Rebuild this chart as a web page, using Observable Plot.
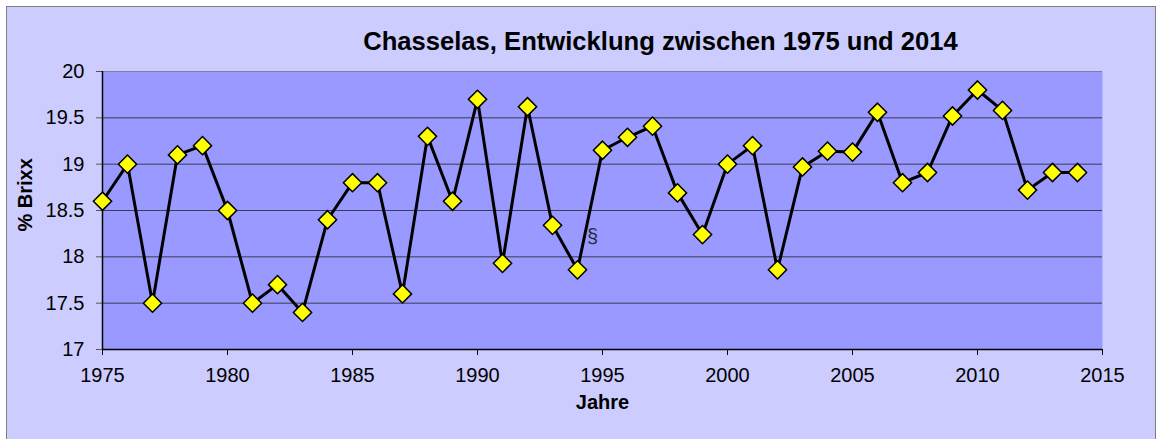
<!DOCTYPE html>
<html>
<head>
<meta charset="utf-8">
<script src="https://cdn.jsdelivr.net/npm/d3@7"></script>
<script src="https://cdn.jsdelivr.net/npm/@observablehq/plot@0.6"></script>
<style>
  html, body { margin: 0; padding: 0; background: #ffffff; }
  #wrap { position: relative; width: 1156px; height: 439px; overflow: hidden; }
  #box { position: absolute; left: 6px; top: 6px; width: 1148px; height: 460px;
         border: 1px solid #7f7f7f; background: #ccccff; }
  #chart { position: absolute; left: 0; top: 0; }
</style>
</head>
<body>
<div id="wrap"><div id="box"></div><div id="chart"></div></div>
<script>
const titleText = "Chasselas, Entwicklung zwischen 1975 und 2014";
const xLabel = "Jahre";
const yLabel = "% Brixx";
const years = [1975,1976,1977,1978,1979,1980,1981,1982,1983,1984,1985,1986,1987,1988,1989,1990,1991,1992,1993,1994,1995,1996,1997,1998,1999,2000,2001,2002,2003,2004,2005,2006,2007,2008,2009,2010,2011,2012,2013,2014];
const brix = [18.6,19.0,17.5,19.1,19.2,18.5,17.5,17.7,17.4,18.4,18.8,18.8,17.6,19.3,18.6,19.7,17.93,19.62,18.34,17.86,19.15,19.29,19.41,18.69,18.24,19.0,19.2,17.86,18.97,19.14,19.13,19.56,18.8,18.91,19.52,19.8,19.58,18.72,18.91,18.91];
const xTicks = [1975,1980,1985,1990,1995,2000,2005,2010,2015];
const yTicks = [17,17.5,18,18.5,19,19.5,20];
const notes = [{year: 1994.6, value: 18.22, text: "§"}];

const data = years.map((y, i) => ({year: y, value: brix[i]}));

const chart = Plot.plot({
  width: 1156,
  height: 439,
  marginLeft: 102,
  marginRight: 54,
  marginTop: 71,
  marginBottom: 90,
  style: {background: "transparent", fontFamily: "'Liberation Sans', Arial, sans-serif", fontSize: "20px", color: "#000"},
  x: {domain: [1975, 2015]},
  y: {domain: [17, 20]},
  marks: [
    Plot.frame({fill: "#9999ff", stroke: null}),
    Plot.gridY(yTicks.filter(d => d > 17 && d < 20), {stroke: "#3c3c50", strokeOpacity: 1, strokeWidth: 1}),
    Plot.ruleY([20], {stroke: "#7f7f9f", strokeWidth: 1}),
    Plot.axisY({ticks: yTicks, tickSize: 6, tickPadding: 12, tickFormat: d => String(d), label: null, stroke: "#555"}),
    Plot.axisX({ticks: xTicks, tickSize: 6, tickPadding: 12, tickFormat: d => String(d), label: null, stroke: "#000"}),
    Plot.ruleY([17], {stroke: "#000", strokeWidth: 1.5}),
    Plot.ruleX([1975], {stroke: "#000", strokeWidth: 1.5}),
    Plot.line(data, {x: "year", y: "value", stroke: "#000", strokeWidth: 3}),
    Plot.dot(data, {x: "year", y: "value", symbol: "diamond2", r: 8.2, fill: "#ffff00", stroke: "#000", strokeWidth: 1.5}),
    Plot.text(notes, {x: "year", y: "value", text: "text", fontSize: 20, fill: "#2a2a44", fontFamily: "'Liberation Sans', Arial, sans-serif", lineAnchor: "middle"}),
    Plot.text([titleText], {frameAnchor: "top", dx: 58, dy: -22, lineAnchor: "bottom", fontSize: 25.6, fontWeight: "bold"}),
    Plot.text([xLabel], {frameAnchor: "bottom", dy: 59, lineAnchor: "bottom", fontSize: 20, fontWeight: "bold"}),
    Plot.text([yLabel], {frameAnchor: "left", dx: -77, dy: 21, rotate: -90, lineAnchor: "middle", fontSize: 20, fontWeight: "bold"})
  ]
});
document.getElementById("chart").appendChild(chart);
</script>
</body>
</html>
